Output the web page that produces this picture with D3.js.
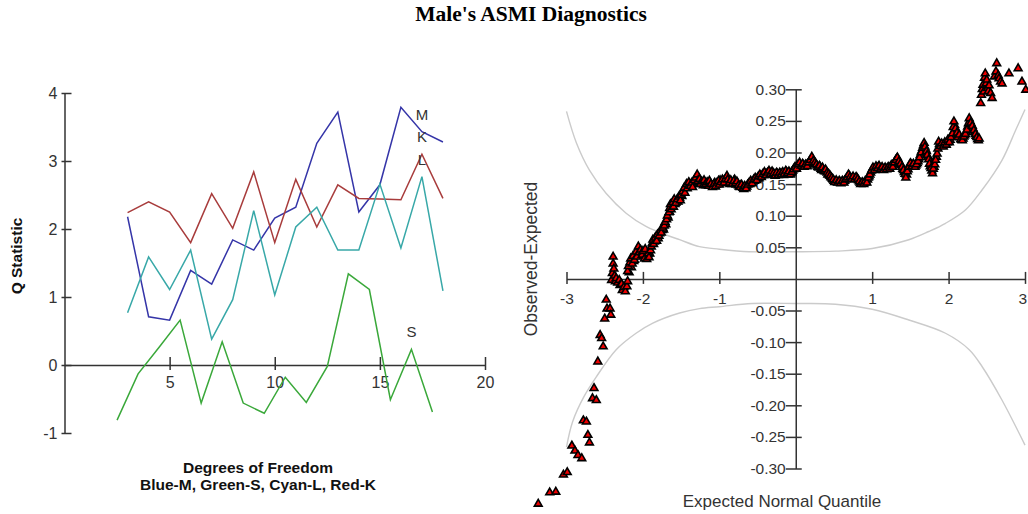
<!DOCTYPE html>
<html>
<head>
<meta charset="utf-8">
<script src="https://cdn.jsdelivr.net/npm/d3@7"></script>
<style>
  html, body { margin: 0; padding: 0; background: #fff; }
  svg { display: block; }
</style>
</head>
<body>
<svg id="chart" width="1028" height="514"></svg>
<script>
// ---- Q statistic against degrees of freedom ----
const degreesOfFreedom = [3, 4, 5, 6, 7, 8, 9, 10, 11, 12, 13, 14, 15, 16, 17, 18];
const qBlueM  = [2.18, 0.71, 0.66, 1.39, 1.19, 1.84, 1.69, 2.16, 2.32, 3.26, 3.72, 2.25, 2.65, 3.79, 3.43, 3.28];
const qRedK   = [2.24, 2.40, 2.25, 1.80, 2.52, 2.01, 2.84, 1.80, 2.73, 2.03, 2.65, 2.45, 2.44, 2.43, 3.10, 2.45];
const qCyanL  = [0.77, 1.59, 1.11, 1.69, 0.38, 0.96, 2.27, 1.03, 2.03, 2.32, 1.69, 1.69, 2.66, 1.72, 2.77, 1.09];
const degreesOfFreedomS = [2.5, 3.5, 4.5, 5.5, 6.5, 7.5, 8.5, 9.5, 10.5, 11.5, 12.5, 13.5, 14.5, 15.5, 16.5, 17.5];
const qGreenS = [-0.81, -0.13, 0.26, 0.66, -0.56, 0.34, -0.56, -0.71, -0.18, -0.55, -0.02, 1.34, 1.11, -0.51, 0.23, -0.69];
const qTicksX = [5, 10, 15, 20];
const qTicksY = [-1, 0, 1, 2, 3, 4];

// ---- detrended normal plot: [expected quantile, observed - expected] ----
const qqPoints = [
  [-3.37,-0.356],[-3.22,-0.338],[-3.14,-0.337],[-3.04,-0.310],[-2.99,-0.306],[-2.93,-0.264],[-2.89,-0.272],
  [-2.85,-0.279],[-2.80,-0.284],[-2.78,-0.224],[-2.74,-0.226],[-2.72,-0.247],[-2.70,-0.259],[-2.66,-0.189],
  [-2.64,-0.173],[-2.61,-0.192],[-2.59,-0.131],[-2.56,-0.089],[-2.54,-0.094],[-2.52,-0.107],[-2.50,-0.063],
  [-2.48,-0.033],[-2.47,-0.047],[-2.43,-0.047],[-2.42,-0.057],
  [-2.41,-0.002],[-2.40,0.009],[-2.39,0.035],[-2.39,0.024],[-2.38,0.016],[-2.37,0.005],[-2.36,-0.004],
  [-2.35,0.001],[-2.33,-0.006],[-2.31,-0.002],[-2.30,-0.010],[-2.28,-0.008],[-2.27,-0.018],[-2.25,-0.013],
  [-2.23,-0.020],[-2.21,-0.012],[-2.20,-0.004],
  [-2.20,0.012],[-2.19,0.020],[-2.17,0.026],[-2.16,0.032],[-2.14,0.024],[-2.13,0.036],[-2.11,0.030],
  [-2.09,0.043],[-2.08,0.035],[-2.06,0.051],[-2.05,0.042],[-2.03,0.046],[-2.01,0.038],[-2.00,0.044],
  [-1.98,0.032],[-1.97,0.047],[-1.95,0.031],[-1.93,0.040],[-1.92,0.034],[-1.90,0.045],[-1.89,0.051],
  [-1.87,0.062],[-1.86,0.055],[-1.84,0.065],[-1.82,0.060],[-1.81,0.070],[-1.79,0.068],[-1.77,0.077],
  [-1.76,0.073],[-1.74,0.081],[-1.72,0.084],[-1.71,0.090],[-1.69,0.094],[-1.68,0.100],[-1.66,0.105],
  [-1.65,0.112],[-1.64,0.118],[-1.63,0.110],[-1.61,0.121],[-1.60,0.114],[-1.59,0.126],[-1.57,0.120],
  [-1.55,0.126],[-1.53,0.130],[-1.51,0.124],[-1.50,0.133],[-1.48,0.138],[-1.46,0.144],[-1.45,0.136],
  [-1.43,0.150],[-1.42,0.143],[-1.40,0.153],[-1.38,0.147],[-1.36,0.152],[-1.35,0.145],[-1.33,0.156],
  [-1.31,0.160],[-1.29,0.165],[-1.28,0.155],[-1.26,0.158],[-1.25,0.150],[-1.23,0.154],[-1.21,0.148],
  [-1.20,0.156],[-1.18,0.150],[-1.16,0.153],[-1.14,0.147],[-1.13,0.155],[-1.11,0.150],[-1.09,0.145],
  [-1.07,0.150],[-1.05,0.146],[-1.03,0.152],[-1.01,0.155],[-1.00,0.149],[-0.98,0.153],[-0.96,0.157],
  [-0.94,0.152],[-0.92,0.158],[-0.90,0.163],[-0.89,0.157],[-0.87,0.152],[-0.85,0.156],[-0.83,0.150],
  [-0.81,0.155],[-0.79,0.151],[-0.77,0.154],[-0.75,0.148],[-0.73,0.145],[-0.71,0.149],[-0.69,0.144],
  [-0.67,0.147],[-0.65,0.143],[-0.63,0.149],[-0.61,0.152],[-0.59,0.155],[-0.57,0.151],[-0.55,0.157],
  [-0.53,0.160],[-0.51,0.156],[-0.49,0.162],[-0.47,0.165],[-0.45,0.161],[-0.43,0.166],[-0.41,0.169],
  [-0.39,0.164],[-0.37,0.168],[-0.35,0.171],[-0.33,0.166],[-0.31,0.170],[-0.29,0.167],[-0.27,0.163],
  [-0.25,0.168],[-0.23,0.164],[-0.21,0.168],[-0.19,0.165],[-0.17,0.169],[-0.15,0.166],[-0.13,0.171],
  [-0.11,0.167],[-0.09,0.170],[-0.07,0.165],[-0.05,0.169],[-0.03,0.173],[-0.01,0.177],[0.01,0.174],
  [0.03,0.181],[0.05,0.184],[0.07,0.179],[0.09,0.182],[0.11,0.177],[0.13,0.181],[0.15,0.178],
  [0.17,0.184],[0.19,0.188],[0.21,0.193],[0.23,0.187],[0.25,0.184],[0.27,0.181],[0.29,0.177],
  [0.31,0.179],[0.33,0.174],[0.35,0.176],[0.37,0.171],[0.39,0.173],[0.41,0.168],[0.43,0.166],
  [0.45,0.163],[0.47,0.160],[0.49,0.157],[0.51,0.153],[0.53,0.156],[0.55,0.152],[0.57,0.155],
  [0.59,0.151],[0.61,0.155],[0.63,0.152],[0.65,0.157],[0.67,0.160],[0.69,0.165],[0.71,0.161],
  [0.73,0.158],[0.75,0.162],[0.77,0.157],[0.79,0.161],[0.81,0.158],[0.83,0.154],[0.85,0.150],
  [0.87,0.153],[0.89,0.150],[0.91,0.155],[0.93,0.152],[0.95,0.160],[0.97,0.165],[0.99,0.171],
  [1.01,0.176],[1.03,0.172],[1.05,0.178],[1.07,0.175],[1.09,0.179],[1.11,0.174],[1.13,0.177],
  [1.15,0.172],[1.17,0.176],[1.19,0.173],[1.21,0.177],[1.23,0.174],[1.25,0.180],[1.27,0.177],
  [1.29,0.184],[1.31,0.188],[1.33,0.192],[1.35,0.186],[1.37,0.182],[1.39,0.177],[1.41,0.172],
  [1.43,0.166],[1.44,0.160],[1.46,0.170],[1.48,0.177],[1.50,0.183],[1.52,0.178],[1.54,0.182],
  [1.56,0.177],[1.58,0.181],[1.60,0.186],[1.62,0.192],[1.64,0.200],[1.66,0.207],[1.68,0.215],
  [1.69,0.209],[1.71,0.202],[1.72,0.196],[1.74,0.189],[1.75,0.182],[1.77,0.175],[1.79,0.167],
  [1.80,0.174],[1.82,0.181],[1.83,0.188],[1.85,0.198],[1.86,0.206],[1.87,0.217],[1.89,0.210],
  [1.91,0.214],[1.93,0.209],[1.95,0.216],[1.97,0.212],[1.99,0.220],[2.01,0.216],[2.03,0.224],
  [2.05,0.230],[2.06,0.240],[2.07,0.249],[2.09,0.238],[2.11,0.231],[2.12,0.224],[2.14,0.228],
  [2.16,0.221],[2.18,0.219],[2.20,0.225],[2.22,0.229],[2.24,0.236],[2.26,0.246],[2.27,0.254],
  [2.29,0.247],[2.31,0.242],[2.33,0.235],[2.35,0.229],[2.37,0.224],[2.39,0.219],[2.40,0.222],
  [2.42,0.278],[2.43,0.291],[2.44,0.300],[2.45,0.307],[2.46,0.296],[2.47,0.318],[2.48,0.325],
  [2.49,0.309],[2.50,0.315],[2.51,0.302],[2.52,0.297],[2.53,0.306],[2.55,0.294],[2.57,0.286],
  [2.60,0.320],[2.62,0.328],[2.63,0.341],[2.65,0.322],[2.66,0.317],[2.68,0.312],[2.70,0.309],
  [2.79,0.325],[2.91,0.333],[2.96,0.312],[3.01,0.299]
];
// the crowded middle of the sample, between the points above
const qqPointsMiddle = [
  [-2.18,0.010],[-2.15,0.018],[-2.12,0.028],[-2.10,0.036],[-2.07,0.040],[-2.04,0.036],[-2.02,0.041],
  [-1.99,0.039],[-1.96,0.038],[-1.94,0.037],[-1.91,0.040],[-1.88,0.056],[-1.85,0.059],[-1.83,0.066],
  [-1.80,0.064],[-1.78,0.072],[-1.75,0.077],[-1.73,0.078],[-1.70,0.086],[-1.67,0.097],[-1.65,0.106],
  [-1.62,0.115],[-1.58,0.118],[-1.56,0.122],[-1.54,0.122],[-1.52,0.128],[-1.49,0.131],[-1.47,0.140],
  [-1.44,0.145],[-1.41,0.147],[-1.39,0.150],[-1.37,0.149],[-1.34,0.150],[-1.32,0.154],[-1.30,0.157],
  [-1.27,0.160],[-1.24,0.152],[-1.22,0.151],[-1.19,0.153],[-1.17,0.148],[-1.15,0.151],[-1.12,0.152],
  [-1.10,0.147],[-1.08,0.148],[-1.06,0.152],[-1.04,0.149],[-1.02,0.150],[-0.99,0.156],[-0.97,0.151],
  [-0.95,0.155],[-0.93,0.155],[-0.91,0.160],[-0.88,0.154],[-0.86,0.150],[-0.84,0.153],[-0.82,0.152],
  [-0.80,0.157],[-0.78,0.149],[-0.76,0.151],[-0.74,0.146],[-0.72,0.148],[-0.70,0.146],[-0.68,0.142],
  [-0.66,0.145],[-0.64,0.146],[-0.62,0.150],[-0.60,0.150],[-0.58,0.153],[-0.56,0.154],[-0.54,0.155],
  [-0.52,0.158],[-0.50,0.159],[-0.48,0.159],[-0.46,0.163],[-0.44,0.164],[-0.42,0.164],[-0.40,0.166],
  [-0.38,0.166],[-0.36,0.166],[-0.34,0.168],[-0.32,0.168],[-0.30,0.165],[-0.28,0.165],[-0.26,0.166],
  [-0.24,0.166],[-0.22,0.165],[-0.20,0.166],[-0.18,0.167],[-0.16,0.164],[-0.14,0.168],[-0.12,0.169],
  [-0.10,0.165],[-0.08,0.168],[-0.06,0.167],[-0.04,0.171],[-0.02,0.175],[0.00,0.176],[0.02,0.178],
  [0.04,0.179],[0.06,0.181],[0.08,0.178],[0.10,0.180],[0.12,0.179],[0.14,0.180],[0.16,0.181],
  [0.18,0.186],[0.20,0.189],[0.22,0.190],[0.24,0.184],[0.26,0.182],[0.28,0.179],[0.30,0.176],
  [0.32,0.177],[0.34,0.172],[0.36,0.173],[0.38,0.170],[0.40,0.170],[0.42,0.165],[0.44,0.164],
  [0.46,0.161],[0.48,0.158],[0.50,0.155],[0.52,0.154],[0.54,0.153],[0.56,0.153],[0.58,0.153],
  [0.60,0.153],[0.62,0.153],[0.64,0.155],[0.66,0.158],[0.68,0.162],[0.70,0.163],[0.72,0.159],
  [0.74,0.160],[0.76,0.159],[0.78,0.159],[0.80,0.160],[0.82,0.156],[0.84,0.152],[0.86,0.151],
  [0.88,0.151],[0.90,0.152],[0.92,0.153],[0.94,0.157],[0.96,0.162],[0.98,0.168],[1.00,0.173],
  [1.02,0.174],[1.04,0.175],[1.06,0.176],[1.08,0.177],[1.10,0.176],[1.12,0.175],[1.14,0.174],
  [1.16,0.174],[1.18,0.174],[1.20,0.175],[1.22,0.176],[1.24,0.177],[1.26,0.178],[1.28,0.181],
  [1.30,0.186],[1.32,0.190],[1.34,0.189],[1.36,0.184],[1.38,0.180],[1.40,0.174],[1.42,0.169],
  [1.45,0.165],[1.47,0.173],[1.49,0.180],[1.51,0.181],[1.53,0.180],[1.55,0.179],[1.57,0.179],
  [1.59,0.183],[1.61,0.189],[1.63,0.196],[1.65,0.203],[1.67,0.211],[1.70,0.205],[1.73,0.193],
  [1.76,0.178],[1.78,0.171],[1.81,0.177],[1.84,0.193],[1.88,0.213],[1.90,0.212],[1.92,0.211],
  [1.94,0.212],[1.96,0.214],[1.98,0.216],[2.00,0.218],[2.02,0.220],[2.04,0.227],[2.08,0.243],
  [2.10,0.234],[2.13,0.226],[2.15,0.224],[2.17,0.220],[2.19,0.222],[2.21,0.227],[2.23,0.232],
  [2.25,0.241],[2.28,0.250],[2.30,0.244],[2.32,0.238],[2.34,0.232],[2.36,0.226],[2.38,0.221]
];
// confidence band around zero deviation
const bandUpper = [
  [-3.00,0.265],[-2.87,0.215],[-2.70,0.172],[-2.48,0.135],[-2.22,0.104],[-1.96,0.083],[-1.81,0.075],
  [-1.52,0.062],[-1.26,0.051],[-1.00,0.047],[-0.61,0.043],[-0.30,0.043],[0.00,0.043],[0.52,0.044],
  [1.00,0.048],[1.48,0.062],[1.74,0.075],[1.96,0.088],[2.22,0.109],[2.44,0.141],[2.70,0.188],
  [2.88,0.236],[3.00,0.268]
];
const bandLower = [
  [-3.00,-0.266],[-2.92,-0.226],[-2.77,-0.186],[-2.61,-0.155],[-2.35,-0.112],[-2.09,-0.086],[-1.87,-0.070],
  [-1.52,-0.054],[-1.26,-0.047],[-1.00,-0.044],[-0.57,-0.039],[0.00,-0.039],[0.52,-0.040],[1.00,-0.048],
  [1.48,-0.065],[1.96,-0.086],[2.27,-0.112],[2.44,-0.139],[2.70,-0.192],[3.00,-0.263]
];
const normTicksX = [-3, -2, -1, 1, 2, 3];
const normTicksY = [-0.30, -0.25, -0.20, -0.15, -0.10, -0.05, 0.05, 0.10, 0.15, 0.20, 0.25, 0.30];

const svg = d3.select("#chart");
const ink = "#333";
const sans = "'Liberation Sans', Arial, sans-serif";

svg.append("text")
  .attr("x", 531).attr("y", 21)
  .attr("text-anchor", "middle")
  .style("font-family", "'Liberation Serif', 'Times New Roman', serif")
  .style("font-weight", "bold").style("font-size", "21.5px")
  .attr("fill", "#000")
  .text("Male's ASMI Diagnostics");

// ================= left panel =================
const xQ = d3.scaleLinear().domain([0, 20]).range([64.5, 485]);
const yQ = d3.scaleLinear().domain([-1, 4]).range([433, 93]);

const left = svg.append("g");

const yAxisQ = left.append("g")
  .attr("transform", `translate(${xQ(0)},0)`)
  .call(d3.axisLeft(yQ).tickValues(qTicksY).tickSize(0).tickPadding(7)
        .tickFormat(d => String(d)).tickSizeOuter(0));
yAxisQ.selectAll(".tick line").attr("x1", -3).attr("x2", 7);

const xAxisQ = left.append("g")
  .attr("transform", `translate(0,${yQ(0)})`)
  .call(d3.axisBottom(xQ).tickValues(qTicksX).tickSize(0).tickPadding(12)
        .tickFormat(d => String(d)).tickSizeOuter(0));
xAxisQ.selectAll(".tick line").attr("y1", -8).attr("y2", 5);

[yAxisQ, xAxisQ].forEach(ax => {
  ax.select(".domain").attr("stroke", ink).attr("stroke-width", 1.5);
  ax.selectAll(".tick line").attr("stroke", ink).attr("stroke-width", 1.5);
  ax.selectAll(".tick text").attr("fill", ink)
    .style("font-family", sans).style("font-size", "16px");
});

const seriesQ = [
  { name: "M", xs: degreesOfFreedom,  ys: qBlueM,  color: "#3535a8" },
  { name: "K", xs: degreesOfFreedom,  ys: qRedK,   color: "#a83c3c" },
  { name: "L", xs: degreesOfFreedom,  ys: qCyanL,  color: "#38a8a8" },
  { name: "S", xs: degreesOfFreedomS, ys: qGreenS, color: "#3aa83a" }
];
const lineQ = d3.line().x(d => xQ(d[0])).y(d => yQ(d[1]));

seriesQ.forEach(s => {
  const pts = s.xs.map((x, i) => [x, s.ys[i]]);
  left.append("path")
    .datum(pts)
    .attr("d", lineQ)
    .attr("fill", "none")
    .attr("stroke", s.color)
    .attr("stroke-width", 1.5);
  // letter tag above the 15th point of each series
  left.append("text")
    .attr("x", xQ(s.xs[14])).attr("y", yQ(s.ys[14]) - 12)
    .attr("text-anchor", "middle")
    .attr("fill", ink)
    .style("font-family", sans).style("font-size", "15px")
    .text(s.name);
});

left.append("text")
  .attr("transform", "translate(22,256) rotate(-90)")
  .attr("text-anchor", "middle")
  .attr("fill", "#111")
  .style("font-family", sans).style("font-weight", "bold").style("font-size", "15.5px")
  .text("Q Statistic");

left.append("text")
  .attr("x", 258).attr("y", 473)
  .attr("text-anchor", "middle").attr("fill", "#111")
  .style("font-family", sans).style("font-weight", "bold").style("font-size", "15.5px")
  .text("Degrees of Freedom");

left.append("text")
  .attr("x", 258).attr("y", 490)
  .attr("text-anchor", "middle").attr("fill", "#111")
  .style("font-family", sans).style("font-weight", "bold").style("font-size", "15.5px")
  .text("Blue-M, Green-S, Cyan-L, Red-K");

// ================= right panel =================
const xN = d3.scaleLinear().domain([-3, 3]).range([566.5, 1025]);
const yN = d3.scaleLinear().domain([-0.3, 0.3]).range([468.5, 89.3]);

const right = svg.append("g");

const lineBand = d3.line().x(d => xN(d[0])).y(d => yN(d[1])).curve(d3.curveCatmullRom);
[bandUpper, bandLower].forEach(b => {
  right.append("path")
    .datum(b)
    .attr("d", lineBand)
    .attr("fill", "none")
    .attr("stroke", "#cbcbcb")
    .attr("stroke-width", 1.4);
});

const xAxisN = right.append("g")
  .attr("transform", `translate(0,${yN(0)})`)
  .call(d3.axisBottom(xN).tickValues(normTicksX).tickSize(0).tickPadding(14)
        .tickFormat(d => String(d)).tickSizeOuter(0));
xAxisN.selectAll(".tick line").attr("y1", -7).attr("y2", 5);
// keep the last quantile label inside the page edge
xAxisN.selectAll(".tick text").filter(d => d === 3).attr("text-anchor", "end").attr("dx", "0.1em");

const yAxisN = right.append("g")
  .attr("transform", `translate(${xN(0)},0)`)
  .call(d3.axisLeft(yN).tickValues(normTicksY).tickSize(0).tickPadding(10)
        .tickFormat(d => d.toFixed(2)).tickSizeOuter(0));
yAxisN.selectAll(".tick line").attr("x1", -10).attr("x2", 6);

[xAxisN, yAxisN].forEach(ax => {
  ax.select(".domain").attr("stroke", ink).attr("stroke-width", 1.5);
  ax.selectAll(".tick line").attr("stroke", ink).attr("stroke-width", 1.5);
  ax.selectAll(".tick text").attr("fill", ink)
    .style("font-family", sans).style("font-size", "15.5px");
});

const tri = d3.symbol().type(d3.symbolTriangle).size(26);
right.append("g")
  .selectAll("path")
  .data(qqPointsMiddle.concat(qqPoints))
  .join("path")
  .attr("transform", d => `translate(${xN(d[0])},${yN(d[1])})`)
  .attr("d", tri)
  .attr("fill", "#ee0000")
  .attr("stroke", "#000")
  .attr("stroke-width", 1.6);

right.append("text")
  .attr("transform", "translate(537,259) rotate(-90)")
  .attr("text-anchor", "middle").attr("fill", ink)
  .style("font-family", sans).style("font-size", "17.5px")
  .text("Observed-Expected");

right.append("text")
  .attr("x", 782).attr("y", 507)
  .attr("text-anchor", "middle").attr("fill", ink)
  .style("font-family", sans).style("font-size", "17px")
  .text("Expected Normal Quantile");
</script>
</body>
</html>
